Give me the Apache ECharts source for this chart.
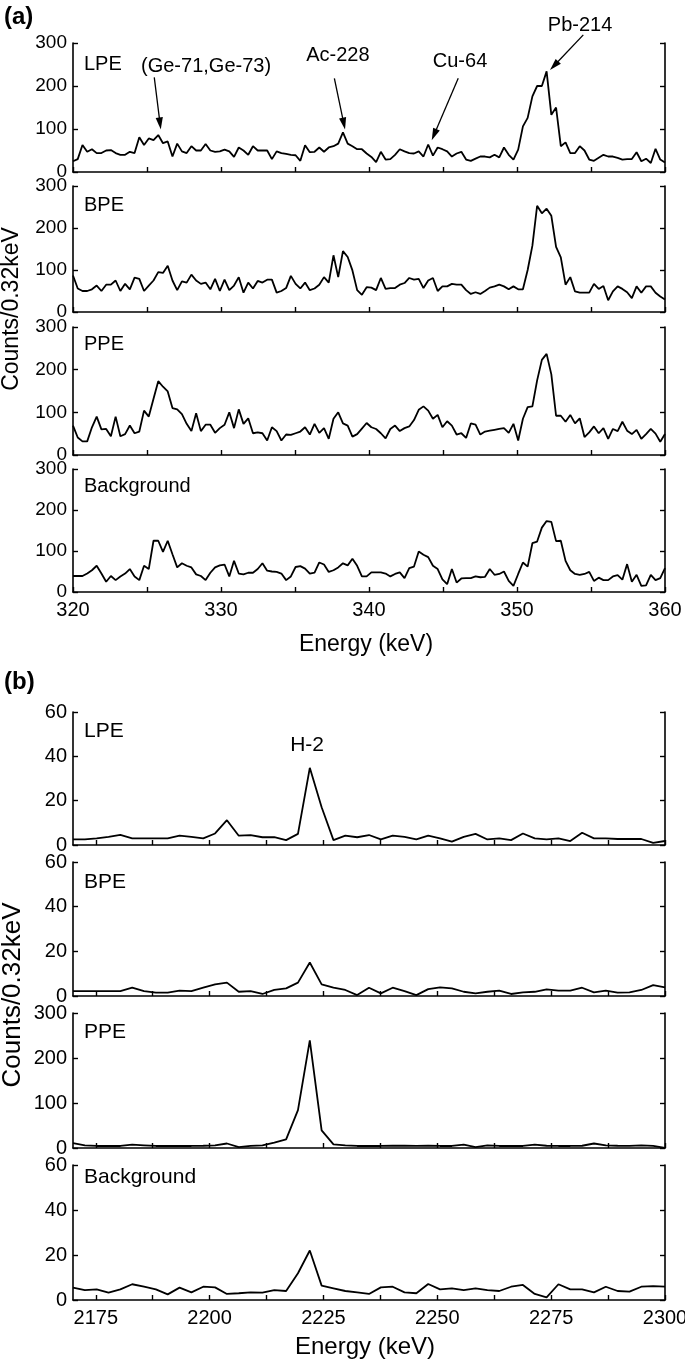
<!DOCTYPE html>
<html><head><meta charset="utf-8">
<script src="https://cdn.jsdelivr.net/npm/echarts@6/dist/echarts.min.js"></script>
<style>html,body{margin:0;padding:0;background:#fff}#c{width:685px;height:1362px}</style>
</head><body><div id="c"></div>
<script>
// ---------- data ----------
const PANEL_A_LABELS = ['LPE', 'BPE', 'PPE', 'Background'];
const PANEL_B_LABELS = ['LPE', 'BPE', 'PPE', 'Background'];
const ENERGY_A_START = 320, ENERGY_A_BIN = 0.32, ENERGY_A_COUNT = 126;
const ENERGY_B_START = 2170, ENERGY_B_BIN = 2.6, ENERGY_B_COUNT = 51;

const LPE_A = [25,30,63,47,53,44,44,50,51,44, 40,40,47,44,81,63,78,74,86,67,
  71,36,66,48,44,60,50,50,65,50, 47,48,52,48,35,57,50,40,60,50,
  50,50,30,48,44,42,40,39,26,62, 46,47,57,47,57,60,66,92,66,60,
  53,53,43,35,23,47,29,30,40,53, 48,44,43,48,36,64,38,57,53,48,
  36,43,47,29,26,31,36,36,34,40, 34,57,40,29,52,106,126,176,200,200,
  234,133,150,60,69,44,44,60,50,29, 26,33,40,36,36,33,29,30,30,46,
  25,31,21,54,29,22];
const BPE_A = [87,56,50,50,54,63,50,65,65,75, 50,67,54,82,79,50,63,75,95,93,
  110,75,52,73,70,89,75,67,70,54, 79,50,77,52,63,83,46,70,56,74,
  70,77,77,46,50,57,86,67,56,70, 52,56,65,83,70,135,83,145,131,99,
  52,41,59,58,52,81,55,57,57,65, 69,81,77,79,57,75,81,50,61,61,
  67,65,65,52,43,47,43,50,58,61, 65,61,54,61,54,54,100,158,253,235,
  246,229,155,130,65,83,49,46,46,46, 67,55,62,28,49,61,55,47,33,61,
  46,61,61,46,37,30];
const PPE_A = [69,41,32,32,65,90,60,61,44,90, 44,49,69,51,55,104,90,132,173,160,
  149,110,107,96,73,56,98,56,71,71, 52,63,71,100,63,107,73,86,51,53,
  51,34,65,56,34,48,47,51,55,65, 48,73,52,63,38,85,100,74,69,43,
  49,62,75,65,61,51,39,61,69,56, 63,67,82,106,114,104,85,94,65,79,
  69,48,51,40,74,71,48,55,57,59, 61,63,52,73,34,85,112,114,175,223,
  237,189,92,92,78,94,74,86,42,53, 67,51,63,38,61,56,78,57,49,59,
  38,49,61,50,31,49];
const BKG_A = [39,39,39,45,53,64,45,25,39,29, 38,45,56,38,29,64,56,125,125,98,
  125,92,60,70,64,60,43,39,29,47, 60,65,67,38,76,45,43,47,47,56,
  70,52,50,49,45,29,38,61,63,57, 45,47,72,67,49,53,60,70,65,81,
  64,38,38,48,48,48,45,38,44,48, 34,58,62,99,91,85,64,56,31,19,
  56,23,33,34,34,38,36,37,56,42, 44,50,27,15,44,72,62,119,123,157,
  173,171,124,125,76,53,44,42,44,49, 27,35,29,29,38,41,30,68,25,42,
  15,16,42,29,34,58];

const LPE_B = [2.5,2.5,3,3.7,4.6,3,3,3,3,4.2, 3.7,3,5.2,11.2,4.2,4.5,3.5,3.5,2.2,5,
  34.8,17,2.2,4.2,3.5,4.5,2.5,4.2,3.7,2.5, 4.2,3,1.5,3.7,5,2.5,3,2.2,5.2,3,
  2.5,3,1.8,5.5,3,3,2.7,2.7,2.7,1, 1.8];
const BPE_B = [2.2,2.2,2.2,2.2,2.2,3.7,2.2,1.5,1.5,2.4, 2.2,3.7,5.2,6,1.9,2.2,0.9,2.7,3.4,6,
  15,5.2,3.7,2.7,0.4,3.7,1.2,3.7,2.2,0.4, 3.1,3.9,3.4,1.9,1.2,1.9,2.4,0.9,1.6,1.9,
  3,2.4,2.4,3.7,1.6,2.4,1.5,1.6,2.7,4.9, 3.9];
const PPE_B = [11,6,4.5,4.5,4.5,7.5,6,4.5,4.5,4.5, 4.5,5,6,10,2,4.5,6,12,19,84,
  239,39,8,6,4.5,4.5,4.5,5,5,4.5, 5,4.5,4.5,7.5,2,6,4.5,4.5,4.5,7.5,
  5,4.5,4.5,5,10,6,5,4.5,6,4.5, 0.5];
const BKG_B = [5.5,4.4,4.7,3.3,4.7,7,5.9,4.7,2.5,5.5, 3.4,5.9,5.6,2.7,3,3.4,3.3,4.4,4,11.9,
  22,6.4,5.2,4,3.4,2.7,5.6,5.9,3.4,3, 7.1,4.7,5.2,4.4,5.2,4.4,4,5.9,6.7,2.7,
  1.2,7,4.7,4.7,3.4,5.9,4,3.7,5.9,6.2, 5.9];

const X_TICKS_A = [320,325,330,335,340,345,350,355,360];
const X_LABELS_A = [320,330,340,350,360];
const X_TICKS_B = [2175,2187.5,2200,2212.5,2225,2237.5,2250,2262.5,2275,2287.5,2300];
const X_LABELS_B = [2175,2200,2225,2250,2275,2300];
const Y_MAX_A = [300,300,300,300];
const Y_MAX_B = [60,60,300,60];

// annotations in data coordinates of the first (LPE) plot of each panel
const ANNOT_A = [
  {text:'(Ge-71,Ge-73)', at:[328.99,246], tail:[325.49,220], head:[325.93,99]},
  {text:'Ac-228', at:[337.9,272], tail:[337.66,218], head:[338.38,99]},
  {text:'Cu-64', at:[346.15,256], tail:[346.03,218], head:[344.24,74]},
  {text:'Pb-214', at:[354.26,340], tail:[354.48,319], head:[352.23,237]}
];
const ANNOT_B = [{text:'H-2', at:[2221.4,45]}];

// ---------- layout ----------
const FONT_A = "'Liberation Sans', Arial, sans-serif";
const FONT_B = "'Liberation Sans Narrow', 'Arial Narrow', 'Liberation Sans', Arial, sans-serif";
const GRID_A = [[43,129],[186,126],[327,128],[469,123]];
const GRID_B = [[712,133],[862,134],[1013,135],[1165,135]];
const LEFT = 73, RIGHT = 20;

function bins(start, step, n){ const a=[]; for(let i=0;i<n;i++) a.push(+(start+step*i).toFixed(3)); return a; }
const EA = bins(ENERGY_A_START, ENERGY_A_BIN, ENERGY_A_COUNT);
const EB = bins(ENERGY_B_START, ENERGY_B_BIN, ENERGY_B_COUNT);

const grids=[], xAxes=[], yAxes=[], series=[];
const axisLineStyle = {color:'#000', width:1.6};
function addPanel(gdefs, ymaxes, dataSets, energies, xmin, xmax, ticks, labels, font, xfs, yfs){
  gdefs.forEach((g,k)=>{
    const gi = grids.length;
    grids.push({left:LEFT, right:RIGHT, top:g[0], height:g[1], containLabel:false, outerBoundsMode:'none'});
    const last = k === gdefs.length-1;
    xAxes.push({type:'value', gridIndex:gi, min:xmin, max:xmax,
      axisLine:{show:true, onZero:false, lineStyle:axisLineStyle},
      axisTick:{show:true, inside:true, length:5, lineStyle:{color:'#000', width:1.4}, customValues:ticks},
      axisLabel:{show:last, customValues:labels, color:'#000', fontSize:xfs, fontFamily:font, margin:8,
        hideOverlap:false, formatter: v => String(v)},
      splitLine:{show:false}});
    const ym = ymaxes[k], iv = ym/3;
    const yi = yAxes.length;
    [ 'left','right' ].forEach(pos=>{
      yAxes.push({type:'value', gridIndex:gi, position:pos, min:0, max:ym, interval:iv,
        axisLine:{show:true, onZero:false, lineStyle:axisLineStyle},
        axisTick:{show:true, inside:true, length:5, lineStyle:{color:'#000', width:1.4}},
        axisLabel:{show:pos==='left', color:'#000', fontSize:yfs, fontFamily:font, margin:6,
          formatter: v => String(v)},
        splitLine:{show:false}});
    });
    series.push({type:'line', xAxisIndex:gi, yAxisIndex:yi, showSymbol:false, symbol:'none',
      lineStyle:{color:'#000', width:1.8}, clip:true, animation:false,
      data: energies.map((e,i)=>[e, dataSets[k][i]])});
  });
}
addPanel(GRID_A, Y_MAX_A, [LPE_A,BPE_A,PPE_A,BKG_A], EA, 320, 360, X_TICKS_A, X_LABELS_A, FONT_A, 20, 19);
addPanel(GRID_B, Y_MAX_B, [LPE_B,BPE_B,PPE_B,BKG_B], EB, 2170, 2300, X_TICKS_B, X_LABELS_B, FONT_B, 20, 20);

const chart = echarts.init(document.getElementById('c'), null, {renderer:'canvas'});
chart.setOption({animation:false, grid:grids, xAxis:xAxes, yAxis:yAxes, series:series});

// ---------- text & arrows ----------
const gr = [];
function txt(text, x, y, size, font){
  gr.push({type:'text', x:x, y:y, style:{text:text, fill:'#000', font:size+'px '+font,
    textAlign:'left', textVerticalAlign:'middle'}});
}
function px(g, d){ return chart.convertToPixel({xAxisIndex:g, yAxisIndex:2*g}, d); }
function arrow(g, tail, head){
  const t = px(g, tail), h = px(g, head);
  const dx=h[0]-t[0], dy=h[1]-t[1], L=Math.hypot(dx,dy), ux=dx/L, uy=dy/L;
  const len=12, hw=3.6;
  const bx=h[0]-ux*len, by=h[1]-uy*len;
  gr.push({type:'line', shape:{x1:t[0], y1:t[1], x2:bx+ux*2, y2:by+uy*2}, style:{stroke:'#000', lineWidth:1.3}});
  gr.push({type:'polygon', shape:{points:[[h[0],h[1]],[bx-uy*hw,by+ux*hw],[bx+uy*hw,by-ux*hw]]}, style:{fill:'#000'}});
}
gr.push({type:'text', x:4, y:17, style:{text:'(a)', fill:'#000', font:'bold 24px '+FONT_A, textVerticalAlign:'middle'}});
gr.push({type:'text', x:4, y:682, style:{text:'(b)', fill:'#000', font:'bold 24px '+FONT_A, textVerticalAlign:'middle'}});
const LBL_A_Y = [64, 205, 344, 486], LBL_B_Y = [731, 882, 1032, 1177];
PANEL_A_LABELS.forEach((t,k)=>txt(t, 84, LBL_A_Y[k], 20, FONT_A));
PANEL_B_LABELS.forEach((t,k)=>txt(t, 84, LBL_B_Y[k], 21, FONT_B));
ANNOT_A.forEach(a=>{
  const p = px(0, a.at);
  gr.push({type:'text', x:p[0], y:p[1], style:{text:a.text, fill:'#000', font:'20px '+FONT_A, textAlign:'center', textVerticalAlign:'middle'}});
  arrow(0, a.tail, a.head);
});
ANNOT_B.forEach(a=>{
  const p = px(4, a.at);
  gr.push({type:'text', x:p[0], y:p[1], style:{text:a.text, fill:'#000', font:'21px '+FONT_B, textAlign:'center', textVerticalAlign:'middle'}});
});
gr.push({type:'text', x:366, y:645, style:{text:'Energy (keV)', fill:'#000', font:'23px '+FONT_A, textAlign:'center', textVerticalAlign:'middle'}});
gr.push({type:'text', x:365, y:1347, style:{text:'Energy (keV)', fill:'#000', font:'24px '+FONT_B, textAlign:'center', textVerticalAlign:'middle'}});
gr.push({type:'text', x:12, y:309, rotation:Math.PI/2, style:{text:'Counts/0.32keV', fill:'#000', font:'23px '+FONT_A, textAlign:'center', textVerticalAlign:'middle'}});
gr.push({type:'text', x:13, y:995, rotation:Math.PI/2, style:{text:'Counts/0.32keV', fill:'#000', font:'26px '+FONT_B, textAlign:'center', textVerticalAlign:'middle'}});
chart.setOption({graphic:gr});
</script></body></html>
